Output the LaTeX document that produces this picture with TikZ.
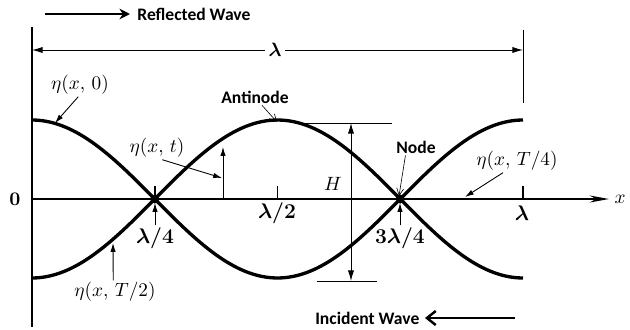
\documentclass[tikz,border=0pt]{standalone}
\usepackage{amsmath}
\usepackage{fontspec}
\newfontfamily\wordfont{Carlito}
\usetikzlibrary{arrows.meta, positioning}
\tikzset{
  wave/.style={line width=1.9pt, line join=round},
  axis/.style={line width=0.9pt},
  dimline/.style={line width=0.5pt, {Latex[length=6pt,width=3.5pt]}-{Latex[length=6pt,width=3.5pt]}},
  helper/.style={line width=0.5pt},
  pointer/.style={-{Latex[length=5pt,width=3pt]}, line width=0.5pt},
  thinpointer/.style={-{Straight Barb[length=4pt,width=4pt]}, line width=0.35pt},
  mathlabel/.style={font=\fontsize{11}{13}\selectfont, inner sep=1pt},
  ticklabel/.style={font=\fontsize{11.5}{13}\selectfont, inner sep=1pt},
  wordlabel/.style={font=\wordfont\bfseries\fontsize{10}{12}\selectfont, inner sep=1pt},
  reflarrow/.style={line width=1.4pt, -{Stealth[length=6pt,width=6pt]}},
  incarrow/.style={line width=1.4pt, -{Straight Barb[length=5pt,width=8pt]}},
}
\begin{document}
\begin{tikzpicture}[x=0.02cm, y=0.02cm]
  \useasboundingbox (-32,-130) rectangle (598,199);

  % axes and ticks
  \draw[axis] (0,172) -- (0,-128);
  \draw[axis, -{Stealth[length=11pt,width=4pt]}] (0,0) -- (577,0);
  \foreach \t in {122.75, 245.5, 491}
    \draw[axis] (\t,0) -- (\t,13);
  \node[mathlabel] (xlabel) at (588,0) {$x$};
  \node[mathlabel] (zero) at (-17,0) {$\boldsymbol{0}$};

  % standing wave (360/491 = 0.7332)
  \draw[wave] plot[domain=0:491, samples=120, smooth] (\x, {79*cos(0.7332*\x)});
  \draw[wave] plot[domain=0:491, samples=120, smooth] (\x, {-79*cos(0.7332*\x)});
  \fill (122.75,0) circle (4.5);
  \fill (368.25,0) circle (4.5);

  % wavelength
  \draw[helper] (491,169) -- (491,96);
  \coordinate (lamleft) at (0,149);
  \coordinate (lamright) at (491,149);
  \draw[dimline] (lamleft) -- (lamright);
  \node[mathlabel, fill=white, inner sep=2pt] (lam) at (243,149) {$\boldsymbol{\lambda}$};

  % height
  \draw[helper] (268,76) -- (360,76);
  \draw[helper] (285,-82) -- (345,-82);
  \coordinate (htop) at (319,76);
  \coordinate (hbot) at (319,-82);
  \draw[dimline] (htop) -- (hbot);
  \node[mathlabel] (hlabel) at (301,15) {$H$};

  % tick labels
  \node[ticklabel] (quarter) at (123,-39) {$\boldsymbol{\lambda/4}$};
  \node[ticklabel] (half) at (245,-14) {$\boldsymbol{\lambda/2}$};
  \node[ticklabel] (threequarter) at (368,-39) {$\boldsymbol{3\lambda/4}$};
  \node[ticklabel] (full) at (490,-14) {$\boldsymbol{\lambda}$};
  \coordinate (quartertip) at (123,-4);
  \coordinate (threequartertip) at (368,-4);
  \draw[pointer] (quarter.north) -- (quartertip);
  \draw[pointer] (threequarter.north) -- (threequartertip);

  % curve labels
  \node[mathlabel] (eta0) at (48,114) {$\eta(x,\,0)$};
  \coordinate (eta0tip) at (23,76);
  \draw[pointer] ([xshift=-1pt]eta0.south) -- (eta0tip);

  \coordinate (tbase) at (191,0);
  \coordinate (ttip) at (191,52);
  \draw[pointer] (tbase) -- (ttip);
  \node[mathlabel] (etat) at (125,51) {$\eta(x,\,t)$};
  \coordinate (etattip) at (190,21);
  \draw[pointer] ([xshift=3pt]etat.south) -- (etattip);

  \node[mathlabel] (etaquarter) at (485,38) {$\eta(x,\,T/4)$};
  \coordinate (etaquartertip) at (433,2);
  \draw[pointer] ([xshift=-8pt]etaquarter.south) -- (etaquartertip);

  \node[mathlabel] (etahalf) at (83,-93) {$\eta(x,\,T/2)$};
  \coordinate (etahalftip) at (81,-44);
  \draw[pointer] ([xshift=-1pt]etahalf.north) -- (etahalftip);

  % antinode and node
  \node[wordlabel] (antinode) at (223,102) {Antinode};
  \coordinate (antinodetip) at (245,77);
  \draw[thinpointer] ([xshift=4pt]antinode.south) -- (antinodetip);
  \node[wordlabel] (nodelabel) at (384,52) {Node};
  \coordinate (nodetip) at (367,3);
  \draw[thinpointer] ([xshift=-6pt]nodelabel.south) -- (nodetip);

  % travelling directions
  \coordinate (reflstart) at (13,185);
  \coordinate (reflend) at (98,185);
  \draw[reflarrow] (reflstart) -- (reflend);
  \node[wordlabel, right=3pt of reflend] (reflected) {Reflected Wave};
  \coordinate (incstart) at (483,-119);
  \coordinate (incend) at (393,-119);
  \draw[incarrow] (incstart) -- (incend);
  \node[wordlabel, left=2pt of incend] (incident) {Incident Wave};
\end{tikzpicture}
\end{document}
